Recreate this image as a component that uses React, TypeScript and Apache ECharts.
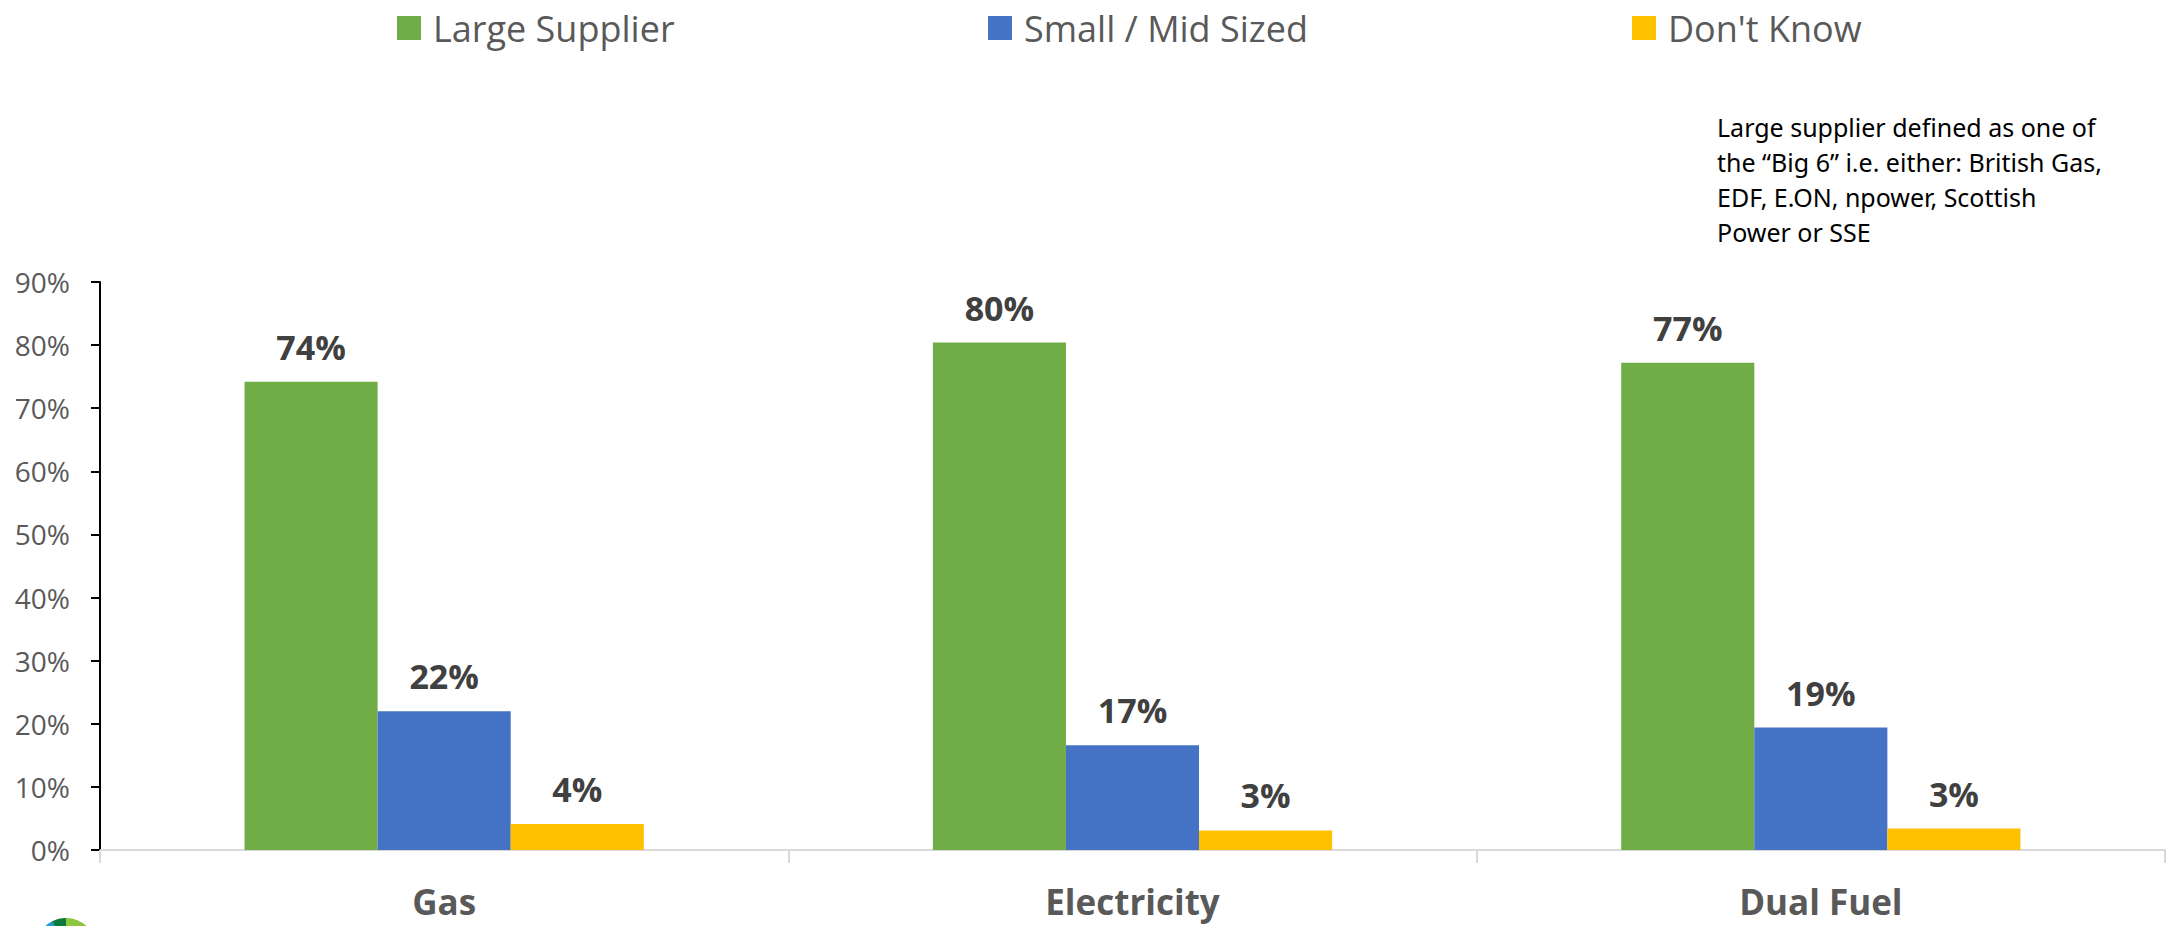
import React, { useEffect, useRef } from "react";
import * as echarts from "echarts";

// Supplier type by fuel, share of respondents (%)
const categories = ["Gas", "Electricity", "Dual Fuel"];
const seriesNames = ["Large Supplier", "Small / Mid Sized", "Don't Know"];
const largeSupplier = [74.2, 80.4, 77.2];
const smallMidSized = [22.0, 16.6, 19.4];
const dontKnow = [4.1, 3.1, 3.4];
const yTicks = [0, 10, 20, 30, 40, 50, 60, 70, 80, 90];

const colors = ["#70AD47", "#4472C4", "#FFC000"];
const noteLines = [
  "Large supplier defined as one of",
  "the \u201CBig 6\u201D i.e. either: British Gas,",
  "EDF, E.ON, npower, Scottish",
  "Power or SSE",
];

const legendLefts = [392, 983, 1627];

export default function App() {
  const ref = useRef<HTMLDivElement>(null);

  useEffect(() => {
    if (!ref.current) return;
    const chart = echarts.init(ref.current, null, { renderer: "svg" });
    const values = [largeSupplier, smallMidSized, dontKnow];

    const legends = seriesNames.map((name, i) => ({
      data: [name],
      left: legendLefts[i],
      top: 5,
      itemWidth: 24,
      itemHeight: 24,
      icon: "rect",
      selectedMode: false,
      textStyle: {
        fontFamily: "Open Sans",
        fontSize: 36,
        color: "#595959",
        padding: [0, 0, 0, 7],
      },
    }));

    chart.setOption({
      animation: false,
      backgroundColor: "#ffffff",
      color: colors,
      legend: legends,
      grid: { left: 100, right: 4, top: 282, bottom: 76, containLabel: false },
      xAxis: {
        type: "category",
        data: categories,
        axisLine: { lineStyle: { color: "#D9D9D9", width: 2 } },
        axisTick: { show: true, length: 13, lineStyle: { color: "#D9D9D9", width: 2 } },
        axisLabel: {
          margin: 34,
          fontFamily: "Open Sans",
          fontWeight: "bold",
          fontSize: 35,
          color: "#595959",
        },
      },
      yAxis: {
        type: "value",
        min: 0,
        max: 90,
        interval: 10,
        splitLine: { show: false },
        axisLine: { show: true, lineStyle: { color: "#000000", width: 2 } },
        axisTick: { show: true, length: 9, lineStyle: { color: "#000000", width: 2 } },
        axisLabel: {
          margin: 30,
          fontFamily: "Open Sans",
          fontSize: 28,
          color: "#595959",
          formatter: (v: number) => (yTicks.includes(v) ? `${v}%` : ""),
        },
      },
      series: seriesNames.map((name, i) => ({
        name,
        type: "bar",
        data: values[i],
        barGap: "0%",
        barCategoryGap: "42%",
        itemStyle: { color: colors[i] },
        label: {
          show: true,
          position: "top",
          distance: 18,
          fontFamily: "Open Sans",
          fontWeight: "bold",
          fontSize: 34,
          color: "#404040",
          formatter: (p: any) => `${Math.round(p.value)}%`,
        },
      })),
      graphic: [
        ...noteLines.map((line, i) => ({
          type: "text",
          left: 1717,
          top: 114 + i * 35,
          style: {
            text: line,
            fontFamily: "Noto Sans",
            fontSize: 25,
            fill: "#000000",
          },
        })),
        // company mark peeking in at the bottom-left corner
        {
          type: "circle",
          shape: { cx: 66, cy: 948, r: 30 },
          style: { fill: "#8DC63F" },
        },
        {
          type: "sector",
          shape: { cx: 66, cy: 948, r: 30, startAngle: Math.PI * 1.05, endAngle: Math.PI * 1.35 },
          style: { fill: "#1C9AD6" },
        },
        {
          type: "sector",
          shape: { cx: 66, cy: 948, r: 30, startAngle: Math.PI * 1.35, endAngle: Math.PI * 1.5 },
          style: { fill: "#0B7A3E" },
        },
        {
          type: "circle",
          shape: { cx: 70, cy: 950, r: 22 },
          style: { fill: "#C6DC3A" },
        },
      ],
    });

    return () => chart.dispose();
  }, []);

  return (
    <div
      ref={ref}
      style={{ position: "fixed", left: 0, top: 0, width: 2169, height: 926, background: "#fff" }}
    />
  );
}
